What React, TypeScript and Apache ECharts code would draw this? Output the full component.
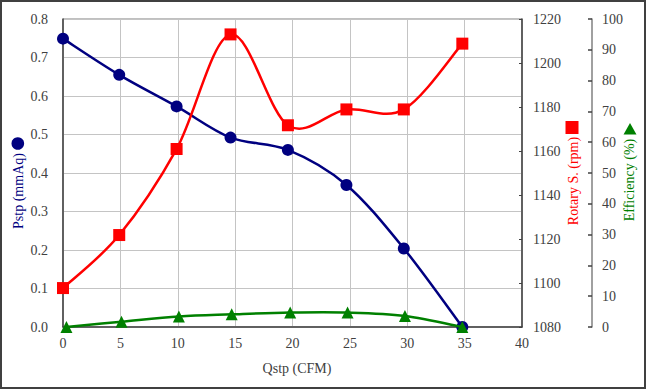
import React, { useEffect, useRef } from "react";
import * as echarts from "echarts";

const qstp = [0, 4.9, 9.9, 14.6, 19.6, 24.7, 29.7, 34.8];
const qstpEff = [0.3, 5.1, 10.1, 14.7, 19.8, 24.8, 29.8, 34.8];
const pstp = [0.749, 0.655, 0.573, 0.492, 0.46, 0.369, 0.204, 0.0];
const rotary = [1097.7, 1121.8, 1160.9, 1213, 1171.7, 1178.9, 1178.9, 1208.8];
const efficiency = [0, 1.7, 3.4, 4.1, 4.7, 4.7, 3.6, 0];

const xTicks = [0, 5, 10, 15, 20, 25, 30, 35, 40];

const FONT = "Liberation Serif";
const TXT = "#404040";

// Excel-like smooth curve (Catmull-Rom as cubic Bezier) built from the data through api.coord
function smoothPath(xs: number[], ys: number[], color: string) {
  return (params: any, api: any) => {
    if (params.dataIndex !== 0) return null;
    const pts = xs.map((x, i) => api.coord([x, ys[i]]) as number[]);
    const n = pts.length;
    let d = `M ${pts[0][0]} ${pts[0][1]}`;
    for (let i = 0; i < n - 1; i++) {
      const p0 = pts[Math.max(i - 1, 0)];
      const p1 = pts[i];
      const p2 = pts[i + 1];
      const p3 = pts[Math.min(i + 2, n - 1)];
      const c1x = p1[0] + (p2[0] - p0[0]) / 6;
      const c1y = p1[1] + (p2[1] - p0[1]) / 6;
      const c2x = p2[0] - (p3[0] - p1[0]) / 6;
      const c2y = p2[1] - (p3[1] - p1[1]) / 6;
      d += ` C ${c1x} ${c1y} ${c2x} ${c2y} ${p2[0]} ${p2[1]}`;
    }
    return {
      type: "path",
      shape: { pathData: d },
      style: { fill: "none", stroke: color, lineWidth: 2.5 },
    };
  };
}

export default function App() {
  const ref = useRef<HTMLDivElement>(null);
  useEffect(() => {
    if (!ref.current) return;
    const chart = echarts.init(ref.current, undefined, { renderer: "svg" });
    const rich = { t: { fontFamily: FONT, fontSize: 14, color: TXT } };
    const label = (margin: number, fmt: (v: number) => string) => ({
      show: true,
      margin,
      fontFamily: FONT,
      fontSize: 14,
      color: TXT,
      formatter: (v: number) => `{t|${fmt(v)}}`,
      rich,
    });
    const mk = (
      name: string,
      xs: number[],
      ys: number[],
      yAxisIndex: number,
      color: string,
      symbol: string,
      size: number,
      z: number
    ) => [
      {
        type: "custom",
        name: name + "-line",
        yAxisIndex,
        z,
        clip: false,
        renderItem: smoothPath(xs, ys, color),
        data: xs.map((x, i) => [x, ys[i]]),
        silent: true,
      },
      {
        type: "scatter",
        name,
        yAxisIndex,
        z: z + 1,
        symbol,
        symbolSize: size,
        itemStyle: { color, opacity: 1 },
        data: xs.map((x, i) => [x, ys[i]]),
      },
    ];
    chart.setOption({
      animation: false,
      backgroundColor: "#ffffff",
      textStyle: { fontFamily: FONT, fontSize: 14 },
      grid: {
        left: 63,
        top: 19,
        right: 125,
        bottom: 63,
        show: true,
        borderColor: "#808080",
        borderWidth: 1,
      },
      xAxis: {
        type: "value",
        min: xTicks[0],
        max: xTicks[xTicks.length - 1],
        interval: 5,
        axisLine: { show: true, onZero: false, lineStyle: { color: "#404040", width: 1.5 } },
        axisTick: { show: false },
        axisLabel: label(9, (v) => String(v)),
        splitLine: { show: true, lineStyle: { color: "#c4c4c4", width: 1 } },
      },
      yAxis: [
        {
          type: "value",
          min: 0,
          max: 0.8,
          interval: 0.1,
          position: "left",
          axisLine: { show: true, lineStyle: { color: "#404040", width: 1.5 } },
          axisTick: { show: false },
          axisLabel: label(15, (v) => v.toFixed(1)),
          splitLine: { show: true, lineStyle: { color: "#c4c4c4", width: 1 } },
        },
        {
          type: "value",
          min: 1080,
          max: 1220,
          interval: 20,
          position: "right",
          axisLine: { show: true, lineStyle: { color: "#404040", width: 1.5 } },
          axisTick: { show: true, inside: true, length: 3, lineStyle: { color: "#404040" } },
          axisLabel: label(11, (v) => String(v)),
          splitLine: { show: false },
        },
        {
          type: "value",
          min: 0,
          max: 100,
          interval: 10,
          position: "right",
          offset: 70,
          axisLine: { show: true, lineStyle: { color: "#808080", width: 1.5 } },
          axisTick: { show: true, inside: true, length: 4, lineStyle: { color: "#404040", width: 1.5 } },
          axisLabel: label(10, (v) => String(v)),
          splitLine: { show: false },
        },
      ],
      series: [
        ...mk("Pstp", qstp, pstp, 0, "#000080", "circle", 12, 2),
        ...mk("Rotary", qstp, rotary, 1, "#ff0000", "rect", 12, 4),
        ...mk("Efficiency", qstpEff, efficiency, 2, "#008000", "triangle", 12, 6),
      ],
      graphic: [
        {
          type: "rect",
          shape: { x: 1, y: 1, width: 644, height: 387 },
          style: { fill: "none", stroke: "#404040", lineWidth: 2 },
          silent: true,
        },
        {
          type: "text",
          x: 297,
          y: 368,
          style: { text: "Qstp (CFM)", fontFamily: FONT, fontSize: 14, fill: TXT, align: "center", verticalAlign: "middle" },
        },
        {
          type: "text",
          x: 18,
          y: 191,
          rotation: Math.PI / 2,
          style: { text: "Pstp (mmAq)", fontFamily: FONT, fontSize: 14, fill: "#000080", align: "center", verticalAlign: "middle" },
        },
        {
          type: "circle",
          shape: { cx: 17.8, cy: 143.5, r: 6.3 },
          style: { fill: "#000080" },
        },
        {
          type: "text",
          x: 573,
          y: 181,
          rotation: Math.PI / 2,
          style: { text: "Rotary S. (rpm)", fontFamily: FONT, fontSize: 14, fill: "#ff0000", align: "center", verticalAlign: "middle" },
        },
        {
          type: "rect",
          shape: { x: 565.5, y: 121, width: 13, height: 13 },
          style: { fill: "#ff0000" },
        },
        {
          type: "text",
          x: 629,
          y: 180,
          rotation: Math.PI / 2,
          style: { text: "Efficiency (%)", fontFamily: FONT, fontSize: 14, fill: "#008000", align: "center", verticalAlign: "middle" },
        },
        {
          type: "polygon",
          shape: { points: [[630, 123], [623.5, 134.5], [636.5, 134.5]] },
          style: { fill: "#008000" },
        },
      ],
    });
    return () => chart.dispose();
  }, []);
  return (
    <div
      ref={ref}
      style={{ position: "absolute", left: 0, top: 0, width: 647, height: 390 }}
    />
  );
}
